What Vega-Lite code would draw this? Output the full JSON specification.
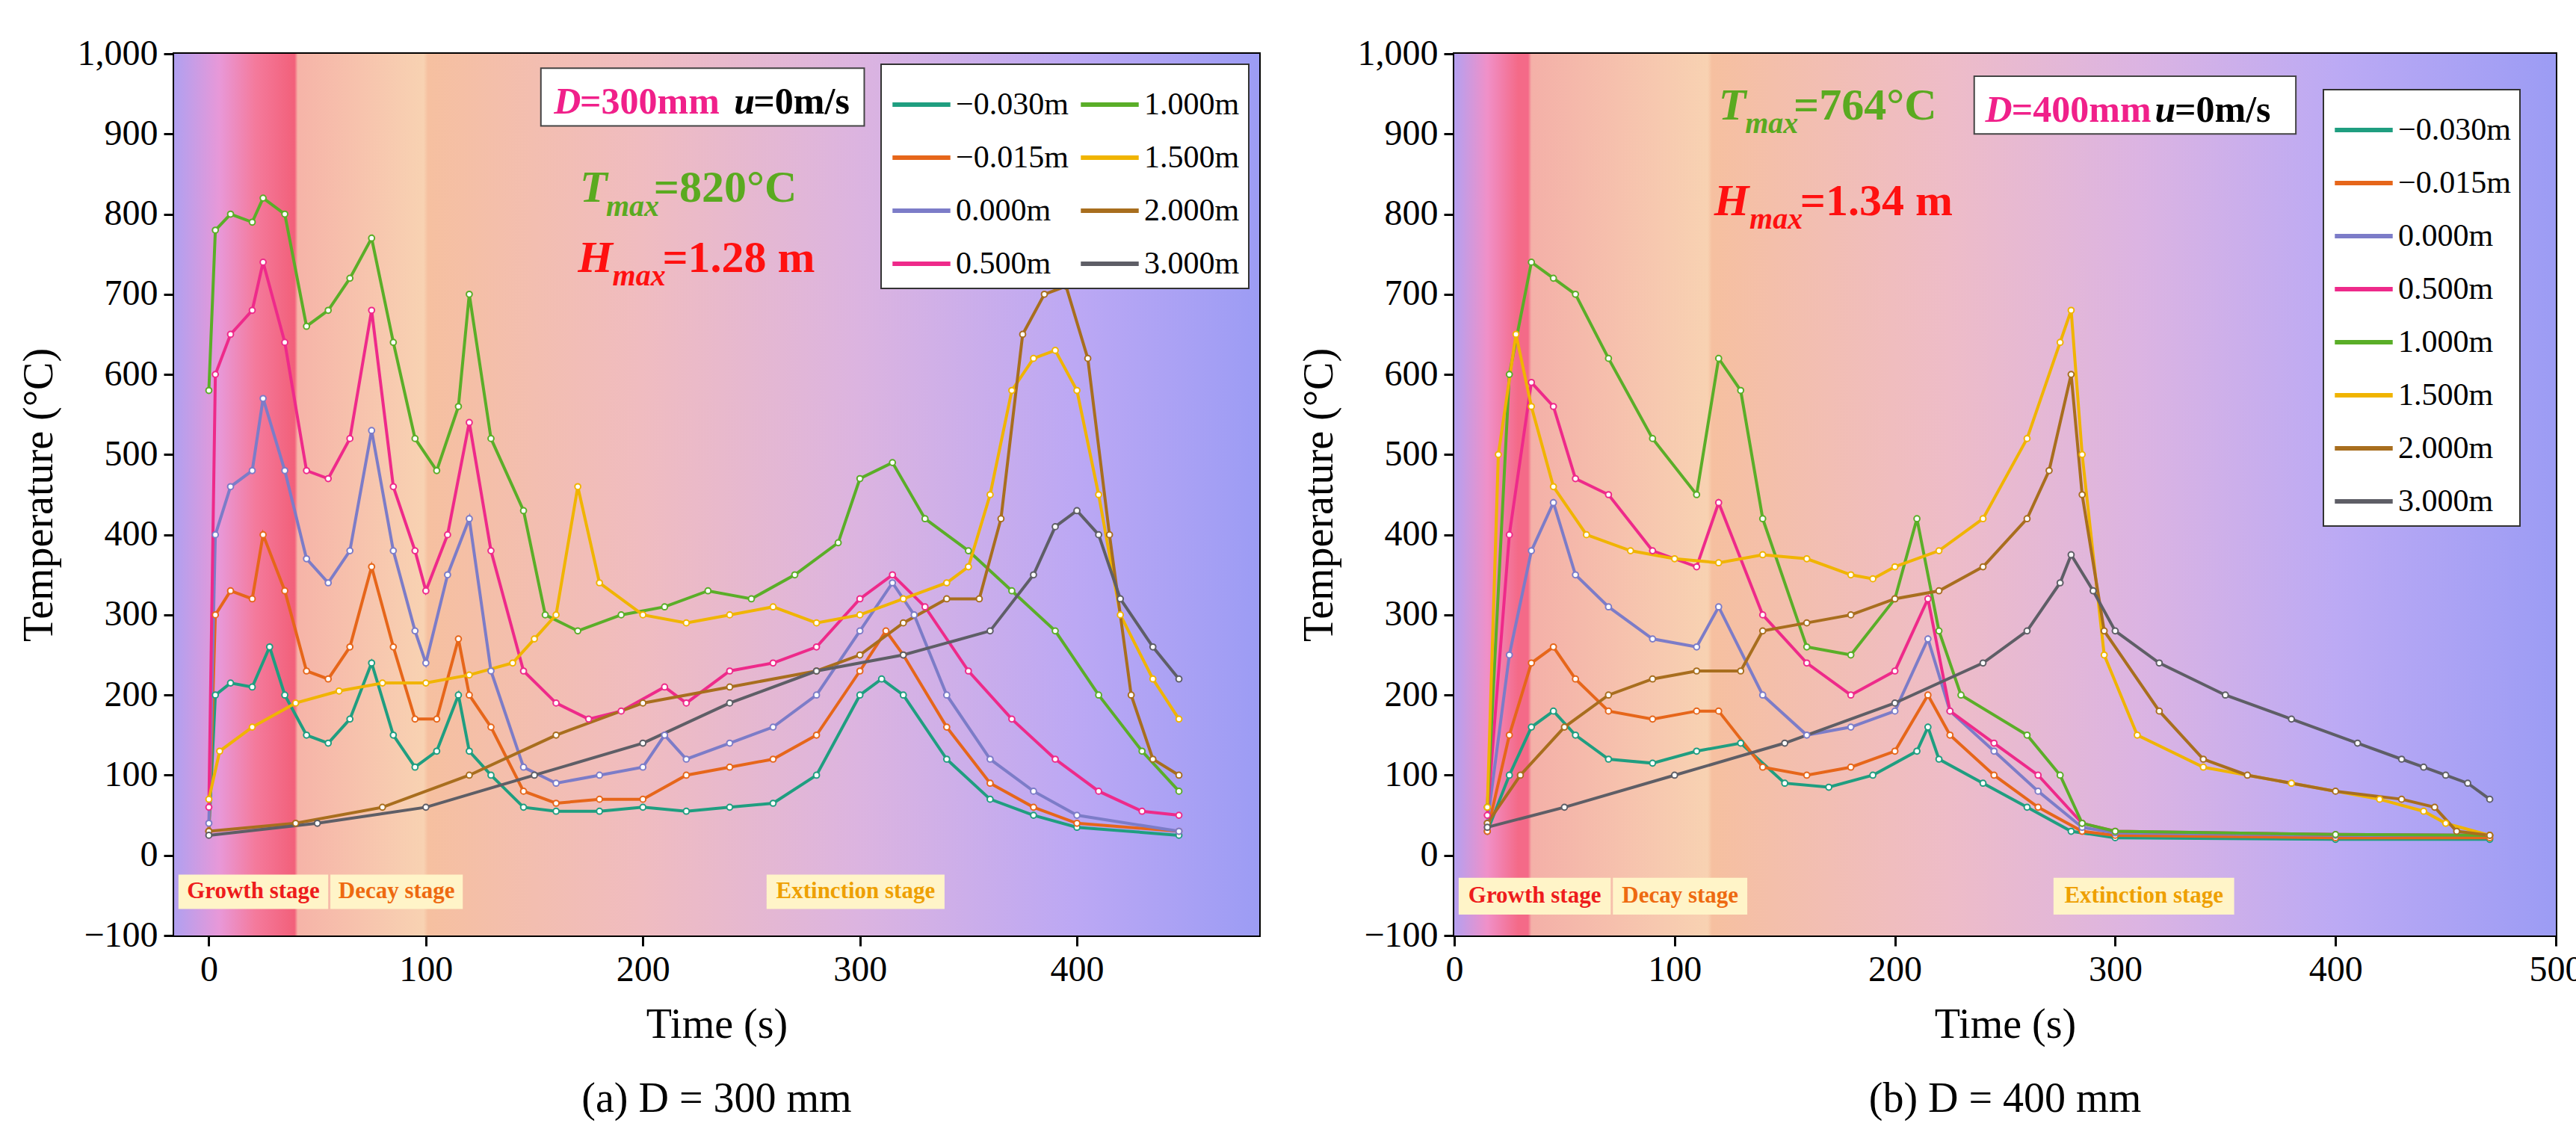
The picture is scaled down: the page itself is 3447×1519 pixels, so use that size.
{
"$schema":"https://vega.github.io/schema/vega-lite/v6.json",
"background":"white",
"padding":{"left":22,"top":46,"right":10,"bottom":10},
"spacing":48,
"config":{"view":{"stroke":"black","strokeWidth":4},
"axis":{"grid":false,"labelFont":"Liberation Serif","titleFont":"Liberation Serif","labelFontSize":48,"titleFontSize":56,"titleFontWeight":"normal","labelColor":"black","titleColor":"black","domainColor":"black","tickColor":"black","tickSize":14,"domainWidth":3,"tickWidth":3,"labelFlush":false,"titlePadding":22,"labelPadding":8},
"legend":{"labelFont":"Liberation Serif","labelFontSize":42,"fillColor":"white","strokeColor":"#333","strokeWidth":2,"padding":12,"symbolType":"stroke","symbolStrokeWidth":6,"symbolSize":6000,"rowPadding":8,"columnPadding":4,"labelColor":"black"},
"title":{"font":"Liberation Serif","fontSize":56,"fontWeight":"normal","color":"black"}},
"resolve":{"scale":{"color":"independent"},"legend":{"color":"independent"}},
"datasets":{
"a":[
{"s":"−0.030m","t":0,"v":30},{"s":"−0.030m","t":3,"v":200},{"s":"−0.030m","t":10,"v":215},{"s":"−0.030m","t":20,"v":210},{"s":"−0.030m","t":28,"v":260},{"s":"−0.030m","t":35,"v":200},{"s":"−0.030m","t":45,"v":150},{"s":"−0.030m","t":55,"v":140},{"s":"−0.030m","t":65,"v":170},{"s":"−0.030m","t":75,"v":240},{"s":"−0.030m","t":85,"v":150},{"s":"−0.030m","t":95,"v":110},{"s":"−0.030m","t":105,"v":130},{"s":"−0.030m","t":115,"v":200},{"s":"−0.030m","t":120,"v":130},{"s":"−0.030m","t":130,"v":100},{"s":"−0.030m","t":145,"v":60},{"s":"−0.030m","t":160,"v":55},{"s":"−0.030m","t":180,"v":55},{"s":"−0.030m","t":200,"v":60},{"s":"−0.030m","t":220,"v":55},{"s":"−0.030m","t":240,"v":60},{"s":"−0.030m","t":260,"v":65},{"s":"−0.030m","t":280,"v":100},{"s":"−0.030m","t":300,"v":200},{"s":"−0.030m","t":310,"v":220},{"s":"−0.030m","t":320,"v":200},{"s":"−0.030m","t":340,"v":120},{"s":"−0.030m","t":360,"v":70},{"s":"−0.030m","t":380,"v":50},{"s":"−0.030m","t":400,"v":35},{"s":"−0.030m","t":447,"v":25},
{"s":"−0.015m","t":0,"v":30},{"s":"−0.015m","t":3,"v":300},{"s":"−0.015m","t":10,"v":330},{"s":"−0.015m","t":20,"v":320},{"s":"−0.015m","t":25,"v":400},{"s":"−0.015m","t":35,"v":330},{"s":"−0.015m","t":45,"v":230},{"s":"−0.015m","t":55,"v":220},{"s":"−0.015m","t":65,"v":260},{"s":"−0.015m","t":75,"v":360},{"s":"−0.015m","t":85,"v":260},{"s":"−0.015m","t":95,"v":170},{"s":"−0.015m","t":105,"v":170},{"s":"−0.015m","t":115,"v":270},{"s":"−0.015m","t":120,"v":200},{"s":"−0.015m","t":130,"v":160},{"s":"−0.015m","t":145,"v":80},{"s":"−0.015m","t":160,"v":65},{"s":"−0.015m","t":180,"v":70},{"s":"−0.015m","t":200,"v":70},{"s":"−0.015m","t":220,"v":100},{"s":"−0.015m","t":240,"v":110},{"s":"−0.015m","t":260,"v":120},{"s":"−0.015m","t":280,"v":150},{"s":"−0.015m","t":300,"v":230},{"s":"−0.015m","t":312,"v":280},{"s":"−0.015m","t":320,"v":250},{"s":"−0.015m","t":340,"v":160},{"s":"−0.015m","t":360,"v":90},{"s":"−0.015m","t":380,"v":60},{"s":"−0.015m","t":400,"v":40},{"s":"−0.015m","t":447,"v":30},
{"s":"0.000m","t":0,"v":40},{"s":"0.000m","t":3,"v":400},{"s":"0.000m","t":10,"v":460},{"s":"0.000m","t":20,"v":480},{"s":"0.000m","t":25,"v":570},{"s":"0.000m","t":35,"v":480},{"s":"0.000m","t":45,"v":370},{"s":"0.000m","t":55,"v":340},{"s":"0.000m","t":65,"v":380},{"s":"0.000m","t":75,"v":530},{"s":"0.000m","t":85,"v":380},{"s":"0.000m","t":95,"v":280},{"s":"0.000m","t":100,"v":240},{"s":"0.000m","t":110,"v":350},{"s":"0.000m","t":120,"v":420},{"s":"0.000m","t":130,"v":230},{"s":"0.000m","t":145,"v":110},{"s":"0.000m","t":160,"v":90},{"s":"0.000m","t":180,"v":100},{"s":"0.000m","t":200,"v":110},{"s":"0.000m","t":210,"v":150},{"s":"0.000m","t":220,"v":120},{"s":"0.000m","t":240,"v":140},{"s":"0.000m","t":260,"v":160},{"s":"0.000m","t":280,"v":200},{"s":"0.000m","t":300,"v":280},{"s":"0.000m","t":315,"v":340},{"s":"0.000m","t":325,"v":300},{"s":"0.000m","t":340,"v":200},{"s":"0.000m","t":360,"v":120},{"s":"0.000m","t":380,"v":80},{"s":"0.000m","t":400,"v":50},{"s":"0.000m","t":447,"v":30},
{"s":"0.500m","t":0,"v":60},{"s":"0.500m","t":3,"v":600},{"s":"0.500m","t":10,"v":650},{"s":"0.500m","t":20,"v":680},{"s":"0.500m","t":25,"v":740},{"s":"0.500m","t":35,"v":640},{"s":"0.500m","t":45,"v":480},{"s":"0.500m","t":55,"v":470},{"s":"0.500m","t":65,"v":520},{"s":"0.500m","t":75,"v":680},{"s":"0.500m","t":85,"v":460},{"s":"0.500m","t":95,"v":380},{"s":"0.500m","t":100,"v":330},{"s":"0.500m","t":110,"v":400},{"s":"0.500m","t":120,"v":540},{"s":"0.500m","t":130,"v":380},{"s":"0.500m","t":145,"v":230},{"s":"0.500m","t":160,"v":190},{"s":"0.500m","t":175,"v":170},{"s":"0.500m","t":190,"v":180},{"s":"0.500m","t":210,"v":210},{"s":"0.500m","t":220,"v":190},{"s":"0.500m","t":240,"v":230},{"s":"0.500m","t":260,"v":240},{"s":"0.500m","t":280,"v":260},{"s":"0.500m","t":300,"v":320},{"s":"0.500m","t":315,"v":350},{"s":"0.500m","t":330,"v":310},{"s":"0.500m","t":350,"v":230},{"s":"0.500m","t":370,"v":170},{"s":"0.500m","t":390,"v":120},{"s":"0.500m","t":410,"v":80},{"s":"0.500m","t":430,"v":55},{"s":"0.500m","t":447,"v":50},
{"s":"1.000m","t":0,"v":580},{"s":"1.000m","t":3,"v":780},{"s":"1.000m","t":10,"v":800},{"s":"1.000m","t":20,"v":790},{"s":"1.000m","t":25,"v":820},{"s":"1.000m","t":35,"v":800},{"s":"1.000m","t":45,"v":660},{"s":"1.000m","t":55,"v":680},{"s":"1.000m","t":65,"v":720},{"s":"1.000m","t":75,"v":770},{"s":"1.000m","t":85,"v":640},{"s":"1.000m","t":95,"v":520},{"s":"1.000m","t":105,"v":480},{"s":"1.000m","t":115,"v":560},{"s":"1.000m","t":120,"v":700},{"s":"1.000m","t":130,"v":520},{"s":"1.000m","t":145,"v":430},{"s":"1.000m","t":155,"v":300},{"s":"1.000m","t":170,"v":280},{"s":"1.000m","t":190,"v":300},{"s":"1.000m","t":210,"v":310},{"s":"1.000m","t":230,"v":330},{"s":"1.000m","t":250,"v":320},{"s":"1.000m","t":270,"v":350},{"s":"1.000m","t":290,"v":390},{"s":"1.000m","t":300,"v":470},{"s":"1.000m","t":315,"v":490},{"s":"1.000m","t":330,"v":420},{"s":"1.000m","t":350,"v":380},{"s":"1.000m","t":370,"v":330},{"s":"1.000m","t":390,"v":280},{"s":"1.000m","t":410,"v":200},{"s":"1.000m","t":430,"v":130},{"s":"1.000m","t":447,"v":80},
{"s":"1.500m","t":0,"v":70},{"s":"1.500m","t":5,"v":130},{"s":"1.500m","t":20,"v":160},{"s":"1.500m","t":40,"v":190},{"s":"1.500m","t":60,"v":205},{"s":"1.500m","t":80,"v":215},{"s":"1.500m","t":100,"v":215},{"s":"1.500m","t":120,"v":225},{"s":"1.500m","t":140,"v":240},{"s":"1.500m","t":150,"v":270},{"s":"1.500m","t":160,"v":300},{"s":"1.500m","t":170,"v":460},{"s":"1.500m","t":180,"v":340},{"s":"1.500m","t":200,"v":300},{"s":"1.500m","t":220,"v":290},{"s":"1.500m","t":240,"v":300},{"s":"1.500m","t":260,"v":310},{"s":"1.500m","t":280,"v":290},{"s":"1.500m","t":300,"v":300},{"s":"1.500m","t":320,"v":320},{"s":"1.500m","t":340,"v":340},{"s":"1.500m","t":350,"v":360},{"s":"1.500m","t":360,"v":450},{"s":"1.500m","t":370,"v":580},{"s":"1.500m","t":380,"v":620},{"s":"1.500m","t":390,"v":630},{"s":"1.500m","t":400,"v":580},{"s":"1.500m","t":410,"v":450},{"s":"1.500m","t":420,"v":300},{"s":"1.500m","t":435,"v":220},{"s":"1.500m","t":447,"v":170},
{"s":"2.000m","t":0,"v":30},{"s":"2.000m","t":40,"v":40},{"s":"2.000m","t":80,"v":60},{"s":"2.000m","t":120,"v":100},{"s":"2.000m","t":160,"v":150},{"s":"2.000m","t":200,"v":190},{"s":"2.000m","t":240,"v":210},{"s":"2.000m","t":280,"v":230},{"s":"2.000m","t":300,"v":250},{"s":"2.000m","t":320,"v":290},{"s":"2.000m","t":340,"v":320},{"s":"2.000m","t":355,"v":320},{"s":"2.000m","t":365,"v":420},{"s":"2.000m","t":375,"v":650},{"s":"2.000m","t":385,"v":700},{"s":"2.000m","t":395,"v":710},{"s":"2.000m","t":405,"v":620},{"s":"2.000m","t":415,"v":400},{"s":"2.000m","t":425,"v":200},{"s":"2.000m","t":435,"v":120},{"s":"2.000m","t":447,"v":100},
{"s":"3.000m","t":0,"v":25},{"s":"3.000m","t":50,"v":40},{"s":"3.000m","t":100,"v":60},{"s":"3.000m","t":150,"v":100},{"s":"3.000m","t":200,"v":140},{"s":"3.000m","t":240,"v":190},{"s":"3.000m","t":280,"v":230},{"s":"3.000m","t":320,"v":250},{"s":"3.000m","t":360,"v":280},{"s":"3.000m","t":380,"v":350},{"s":"3.000m","t":390,"v":410},{"s":"3.000m","t":400,"v":430},{"s":"3.000m","t":410,"v":400},{"s":"3.000m","t":420,"v":320},{"s":"3.000m","t":435,"v":260},{"s":"3.000m","t":447,"v":220}
],
"b":[
{"s":"−0.030m","t":15,"v":30},{"s":"−0.030m","t":25,"v":100},{"s":"−0.030m","t":35,"v":160},{"s":"−0.030m","t":45,"v":180},{"s":"−0.030m","t":55,"v":150},{"s":"−0.030m","t":70,"v":120},{"s":"−0.030m","t":90,"v":115},{"s":"−0.030m","t":110,"v":130},{"s":"−0.030m","t":130,"v":140},{"s":"−0.030m","t":150,"v":90},{"s":"−0.030m","t":170,"v":85},{"s":"−0.030m","t":190,"v":100},{"s":"−0.030m","t":210,"v":130},{"s":"−0.030m","t":215,"v":160},{"s":"−0.030m","t":220,"v":120},{"s":"−0.030m","t":240,"v":90},{"s":"−0.030m","t":260,"v":60},{"s":"−0.030m","t":280,"v":30},{"s":"−0.030m","t":300,"v":22},{"s":"−0.030m","t":400,"v":20},{"s":"−0.030m","t":470,"v":20},
{"s":"−0.015m","t":15,"v":30},{"s":"−0.015m","t":25,"v":150},{"s":"−0.015m","t":35,"v":240},{"s":"−0.015m","t":45,"v":260},{"s":"−0.015m","t":55,"v":220},{"s":"−0.015m","t":70,"v":180},{"s":"−0.015m","t":90,"v":170},{"s":"−0.015m","t":110,"v":180},{"s":"−0.015m","t":120,"v":180},{"s":"−0.015m","t":140,"v":110},{"s":"−0.015m","t":160,"v":100},{"s":"−0.015m","t":180,"v":110},{"s":"−0.015m","t":200,"v":130},{"s":"−0.015m","t":215,"v":200},{"s":"−0.015m","t":225,"v":150},{"s":"−0.015m","t":245,"v":100},{"s":"−0.015m","t":265,"v":60},{"s":"−0.015m","t":285,"v":30},{"s":"−0.015m","t":300,"v":25},{"s":"−0.015m","t":400,"v":22},{"s":"−0.015m","t":470,"v":22},
{"s":"0.000m","t":15,"v":40},{"s":"0.000m","t":25,"v":250},{"s":"0.000m","t":35,"v":380},{"s":"0.000m","t":45,"v":440},{"s":"0.000m","t":55,"v":350},{"s":"0.000m","t":70,"v":310},{"s":"0.000m","t":90,"v":270},{"s":"0.000m","t":110,"v":260},{"s":"0.000m","t":120,"v":310},{"s":"0.000m","t":140,"v":200},{"s":"0.000m","t":160,"v":150},{"s":"0.000m","t":180,"v":160},{"s":"0.000m","t":200,"v":180},{"s":"0.000m","t":215,"v":270},{"s":"0.000m","t":225,"v":180},{"s":"0.000m","t":245,"v":130},{"s":"0.000m","t":265,"v":80},{"s":"0.000m","t":285,"v":35},{"s":"0.000m","t":300,"v":28},{"s":"0.000m","t":400,"v":25},{"s":"0.000m","t":470,"v":25},
{"s":"0.500m","t":15,"v":50},{"s":"0.500m","t":25,"v":400},{"s":"0.500m","t":35,"v":590},{"s":"0.500m","t":45,"v":560},{"s":"0.500m","t":55,"v":470},{"s":"0.500m","t":70,"v":450},{"s":"0.500m","t":90,"v":380},{"s":"0.500m","t":110,"v":360},{"s":"0.500m","t":120,"v":440},{"s":"0.500m","t":140,"v":300},{"s":"0.500m","t":160,"v":240},{"s":"0.500m","t":180,"v":200},{"s":"0.500m","t":200,"v":230},{"s":"0.500m","t":215,"v":320},{"s":"0.500m","t":225,"v":180},{"s":"0.500m","t":245,"v":140},{"s":"0.500m","t":265,"v":100},{"s":"0.500m","t":285,"v":40},{"s":"0.500m","t":300,"v":30},{"s":"0.500m","t":400,"v":26},{"s":"0.500m","t":470,"v":25},
{"s":"1.000m","t":15,"v":60},{"s":"1.000m","t":25,"v":600},{"s":"1.000m","t":35,"v":740},{"s":"1.000m","t":45,"v":720},{"s":"1.000m","t":55,"v":700},{"s":"1.000m","t":70,"v":620},{"s":"1.000m","t":90,"v":520},{"s":"1.000m","t":110,"v":450},{"s":"1.000m","t":120,"v":620},{"s":"1.000m","t":130,"v":580},{"s":"1.000m","t":140,"v":420},{"s":"1.000m","t":160,"v":260},{"s":"1.000m","t":180,"v":250},{"s":"1.000m","t":200,"v":320},{"s":"1.000m","t":210,"v":420},{"s":"1.000m","t":220,"v":280},{"s":"1.000m","t":230,"v":200},{"s":"1.000m","t":260,"v":150},{"s":"1.000m","t":275,"v":100},{"s":"1.000m","t":285,"v":40},{"s":"1.000m","t":300,"v":30},{"s":"1.000m","t":400,"v":26},{"s":"1.000m","t":470,"v":25},
{"s":"1.500m","t":15,"v":60},{"s":"1.500m","t":20,"v":500},{"s":"1.500m","t":28,"v":650},{"s":"1.500m","t":35,"v":560},{"s":"1.500m","t":45,"v":460},{"s":"1.500m","t":60,"v":400},{"s":"1.500m","t":80,"v":380},{"s":"1.500m","t":100,"v":370},{"s":"1.500m","t":120,"v":365},{"s":"1.500m","t":140,"v":375},{"s":"1.500m","t":160,"v":370},{"s":"1.500m","t":180,"v":350},{"s":"1.500m","t":190,"v":345},{"s":"1.500m","t":200,"v":360},{"s":"1.500m","t":220,"v":380},{"s":"1.500m","t":240,"v":420},{"s":"1.500m","t":260,"v":520},{"s":"1.500m","t":275,"v":640},{"s":"1.500m","t":280,"v":680},{"s":"1.500m","t":285,"v":500},{"s":"1.500m","t":295,"v":250},{"s":"1.500m","t":310,"v":150},{"s":"1.500m","t":340,"v":110},{"s":"1.500m","t":380,"v":90},{"s":"1.500m","t":420,"v":70},{"s":"1.500m","t":440,"v":55},{"s":"1.500m","t":450,"v":40},{"s":"1.500m","t":470,"v":25},
{"s":"2.000m","t":15,"v":40},{"s":"2.000m","t":30,"v":100},{"s":"2.000m","t":50,"v":160},{"s":"2.000m","t":70,"v":200},{"s":"2.000m","t":90,"v":220},{"s":"2.000m","t":110,"v":230},{"s":"2.000m","t":130,"v":230},{"s":"2.000m","t":140,"v":280},{"s":"2.000m","t":160,"v":290},{"s":"2.000m","t":180,"v":300},{"s":"2.000m","t":200,"v":320},{"s":"2.000m","t":220,"v":330},{"s":"2.000m","t":240,"v":360},{"s":"2.000m","t":260,"v":420},{"s":"2.000m","t":270,"v":480},{"s":"2.000m","t":280,"v":600},{"s":"2.000m","t":285,"v":450},{"s":"2.000m","t":295,"v":280},{"s":"2.000m","t":320,"v":180},{"s":"2.000m","t":340,"v":120},{"s":"2.000m","t":360,"v":100},{"s":"2.000m","t":400,"v":80},{"s":"2.000m","t":430,"v":70},{"s":"2.000m","t":445,"v":60},{"s":"2.000m","t":455,"v":30},{"s":"2.000m","t":470,"v":25},
{"s":"3.000m","t":15,"v":35},{"s":"3.000m","t":50,"v":60},{"s":"3.000m","t":100,"v":100},{"s":"3.000m","t":150,"v":140},{"s":"3.000m","t":200,"v":190},{"s":"3.000m","t":240,"v":240},{"s":"3.000m","t":260,"v":280},{"s":"3.000m","t":275,"v":340},{"s":"3.000m","t":280,"v":375},{"s":"3.000m","t":290,"v":330},{"s":"3.000m","t":300,"v":280},{"s":"3.000m","t":320,"v":240},{"s":"3.000m","t":350,"v":200},{"s":"3.000m","t":380,"v":170},{"s":"3.000m","t":410,"v":140},{"s":"3.000m","t":430,"v":120},{"s":"3.000m","t":440,"v":110},{"s":"3.000m","t":450,"v":100},{"s":"3.000m","t":460,"v":90},{"s":"3.000m","t":470,"v":70}
]},
"hconcat":[
{"width":1452,"height":1180,
"title":{"text":"(a) D = 300 mm","orient":"bottom","offset":45},
"layer":[
{"data":{"values":[{"a":-16,"b":484}]},
"mark":{"type":"rect","color":{"gradient":"linear","x1":0,"x2":1,"y1":0,"y2":0,"stops":[{"offset":0,"color":"#b0a0f0"},{"offset":0.042,"color":"#e898d8"},{"offset":0.075,"color":"#f47a9c"},{"offset":0.111,"color":"#f2607a"},{"offset":0.114,"color":"#f6b4a8"},{"offset":0.23,"color":"#f8d2b2"},{"offset":0.234,"color":"#f6c0a0"},{"offset":0.43,"color":"#f0bcc0"},{"offset":0.63,"color":"#dcb4e0"},{"offset":0.83,"color":"#bca8f4"},{"offset":1,"color":"#9c9cf4"}]}},
"encoding":{"x":{"field":"a","type":"quantitative","title":"Time (s)","scale":{"domain":[-16,484],"nice":false,"zero":false},"axis":{"values":[0,100,200,300,400]}},"x2":{"field":"b"},
"y":{"datum":-100,"type":"quantitative","title":"Temperature (°C)","scale":{"domain":[-100,1000],"nice":false},"axis":{"values":[-100,0,100,200,300,400,500,600,700,800,900,1000]}},"y2":{"datum":1000}}},
{"data":{"name":"a"},
"mark":{"type":"line","strokeWidth":4,"point":{"filled":false,"fill":"white","size":60,"strokeWidth":2}},
"encoding":{"x":{"field":"t","type":"quantitative","title":"Time (s)"},"y":{"field":"v","type":"quantitative","title":"Temperature (°C)"},
"color":{"field":"s","type":"nominal","scale":{"domain":["−0.030m","−0.015m","0.000m","0.500m","1.000m","1.500m","2.000m","3.000m"],"range":["#1f9e80","#e6661a","#7c7cc8","#ee2a8a","#5aae28","#f0b400","#a86e1e","#5e5e66"]},
"legend":{"title":null,"orient":"top-right","columns":2,"offset":14}}}},
{"data":{"values":[{"a":153,"b":302}]},"mark":{"type":"rect","fill":"white","stroke":"#444","strokeWidth":2},"encoding":{"x":{"field":"a","type":"quantitative"},"x2":{"field":"b"},"y":{"datum":910,"type":"quantitative"},"y2":{"datum":982}}},
{"data":{"values":[{"t":159,"v":925,"txt":"D","c":"#f0208a","z":50},{"t":242,"v":925,"txt":"u","c":"black","z":50},{"t":171,"v":815,"txt":"T","c":"#5aaa20","z":60},{"t":183,"v":798,"txt":"max","c":"#5aaa20","z":40},{"t":170,"v":728,"txt":"H","c":"#ff1010","z":60},{"t":186,"v":711,"txt":"max","c":"#ff1010","z":40}]},
"mark":{"type":"text","align":"left","baseline":"alphabetic","font":"Liberation Serif","fontStyle":"italic","fontWeight":"bold"},
"encoding":{"x":{"field":"t","type":"quantitative"},"y":{"field":"v","type":"quantitative"},"text":{"field":"txt"},"color":{"field":"c","type":"nominal","scale":null},"size":{"field":"z","type":"quantitative","scale":null}}},
{"data":{"values":[{"t":171,"v":925,"txt":"=300mm","c":"#f0208a","z":50},{"t":251,"v":925,"txt":"=0m/s","c":"black","z":50},{"t":205,"v":815,"txt":"=820°C","c":"#5aaa20","z":60},{"t":209,"v":728,"txt":"=1.28 m","c":"#ff1010","z":60}]},
"mark":{"type":"text","align":"left","baseline":"alphabetic","font":"Liberation Serif","fontWeight":"bold"},
"encoding":{"x":{"field":"t","type":"quantitative"},"y":{"field":"v","type":"quantitative"},"text":{"field":"txt"},"color":{"field":"c","type":"nominal","scale":null},"size":{"field":"z","type":"quantitative","scale":null}}},
{"data":{"values":[{"a":-14,"b":55,"m":20.5,"txt":"Growth stage","c":"#ee1c1c"},{"a":56,"b":117,"m":86.5,"txt":"Decay stage","c":"#ee6a10"},{"a":257,"b":339,"m":298,"txt":"Extinction stage","c":"#eea000"}]},
"layer":[
{"mark":{"type":"rect","fill":"#fff4c8"},"encoding":{"x":{"field":"a","type":"quantitative"},"x2":{"field":"b"},"y":{"datum":-67,"type":"quantitative"},"y2":{"datum":-24}}},
{"mark":{"type":"text","align":"center","baseline":"middle","font":"Liberation Serif","fontSize":31,"fontWeight":"bold"},"encoding":{"x":{"field":"m","type":"quantitative"},"y":{"datum":-45,"type":"quantitative"},"text":{"field":"txt"},"color":{"field":"c","type":"nominal","scale":null}}}
]}
]},
{"width":1474,"height":1180,
"title":{"text":"(b) D = 400 mm","orient":"bottom","offset":45},
"layer":[
{"data":{"values":[{"a":0,"b":500}]},
"mark":{"type":"rect","color":{"gradient":"linear","x1":0,"x2":1,"y1":0,"y2":0,"stops":[{"offset":0,"color":"#b4a0f0"},{"offset":0.03,"color":"#f090c8"},{"offset":0.058,"color":"#f46a88"},{"offset":0.067,"color":"#f46a88"},{"offset":0.07,"color":"#f4b0a8"},{"offset":0.23,"color":"#f8d2b2"},{"offset":0.234,"color":"#f6c0a0"},{"offset":0.45,"color":"#eebcc8"},{"offset":0.62,"color":"#dcb4e2"},{"offset":0.8,"color":"#bcaaf4"},{"offset":1,"color":"#9c9cf4"}]}},
"encoding":{"x":{"field":"a","type":"quantitative","title":"Time (s)","scale":{"domain":[0,500],"nice":false,"zero":false},"axis":{"values":[0,100,200,300,400,500]}},"x2":{"field":"b"},
"y":{"datum":-100,"type":"quantitative","title":"Temperature (°C)","scale":{"domain":[-100,1000],"nice":false},"axis":{"values":[-100,0,100,200,300,400,500,600,700,800,900,1000]}},"y2":{"datum":1000}}},
{"data":{"name":"b"},
"mark":{"type":"line","strokeWidth":4,"point":{"filled":false,"fill":"white","size":60,"strokeWidth":2}},
"encoding":{"x":{"field":"t","type":"quantitative","title":"Time (s)"},"y":{"field":"v","type":"quantitative","title":"Temperature (°C)"},
"color":{"field":"s","type":"nominal","scale":{"domain":["−0.030m","−0.015m","0.000m","0.500m","1.000m","1.500m","2.000m","3.000m"],"range":["#1f9e80","#e6661a","#7c7cc8","#ee2a8a","#5aae28","#f0b400","#a86e1e","#5e5e66"]},
"legend":{"title":null,"orient":"top-right","offset":48}}}},
{"data":{"values":[{"a":236,"b":382}]},"mark":{"type":"rect","fill":"white","stroke":"#444","strokeWidth":2},"encoding":{"x":{"field":"a","type":"quantitative"},"x2":{"field":"b"},"y":{"datum":900,"type":"quantitative"},"y2":{"datum":972}}},
{"data":{"values":[{"t":241,"v":915,"txt":"D","c":"#f0208a","z":50},{"t":318,"v":915,"txt":"u","c":"black","z":50},{"t":120,"v":918,"txt":"T","c":"#5aaa20","z":60},{"t":132,"v":901,"txt":"max","c":"#5aaa20","z":40},{"t":118,"v":799,"txt":"H","c":"#ff1010","z":60},{"t":134,"v":782,"txt":"max","c":"#ff1010","z":40}]},
"mark":{"type":"text","align":"left","baseline":"alphabetic","font":"Liberation Serif","fontStyle":"italic","fontWeight":"bold"},
"encoding":{"x":{"field":"t","type":"quantitative"},"y":{"field":"v","type":"quantitative"},"text":{"field":"txt"},"color":{"field":"c","type":"nominal","scale":null},"size":{"field":"z","type":"quantitative","scale":null}}},
{"data":{"values":[{"t":253,"v":915,"txt":"=400mm","c":"#f0208a","z":50},{"t":327,"v":915,"txt":"=0m/s","c":"black","z":50},{"t":154,"v":918,"txt":"=764°C","c":"#5aaa20","z":60},{"t":157,"v":799,"txt":"=1.34 m","c":"#ff1010","z":60}]},
"mark":{"type":"text","align":"left","baseline":"alphabetic","font":"Liberation Serif","fontWeight":"bold"},
"encoding":{"x":{"field":"t","type":"quantitative"},"y":{"field":"v","type":"quantitative"},"text":{"field":"txt"},"color":{"field":"c","type":"nominal","scale":null},"size":{"field":"z","type":"quantitative","scale":null}}},
{"data":{"values":[{"a":2,"b":71,"m":36.5,"txt":"Growth stage","c":"#ee1c1c"},{"a":72,"b":133,"m":102.5,"txt":"Decay stage","c":"#ee6a10"},{"a":272,"b":354,"m":313,"txt":"Extinction stage","c":"#eea000"}]},
"layer":[
{"mark":{"type":"rect","fill":"#fff4c8"},"encoding":{"x":{"field":"a","type":"quantitative"},"x2":{"field":"b"},"y":{"datum":-74,"type":"quantitative"},"y2":{"datum":-28}}},
{"mark":{"type":"text","align":"center","baseline":"middle","font":"Liberation Serif","fontSize":31,"fontWeight":"bold"},"encoding":{"x":{"field":"m","type":"quantitative"},"y":{"datum":-51,"type":"quantitative"},"text":{"field":"txt"},"color":{"field":"c","type":"nominal","scale":null}}}
]}
]}
]}
